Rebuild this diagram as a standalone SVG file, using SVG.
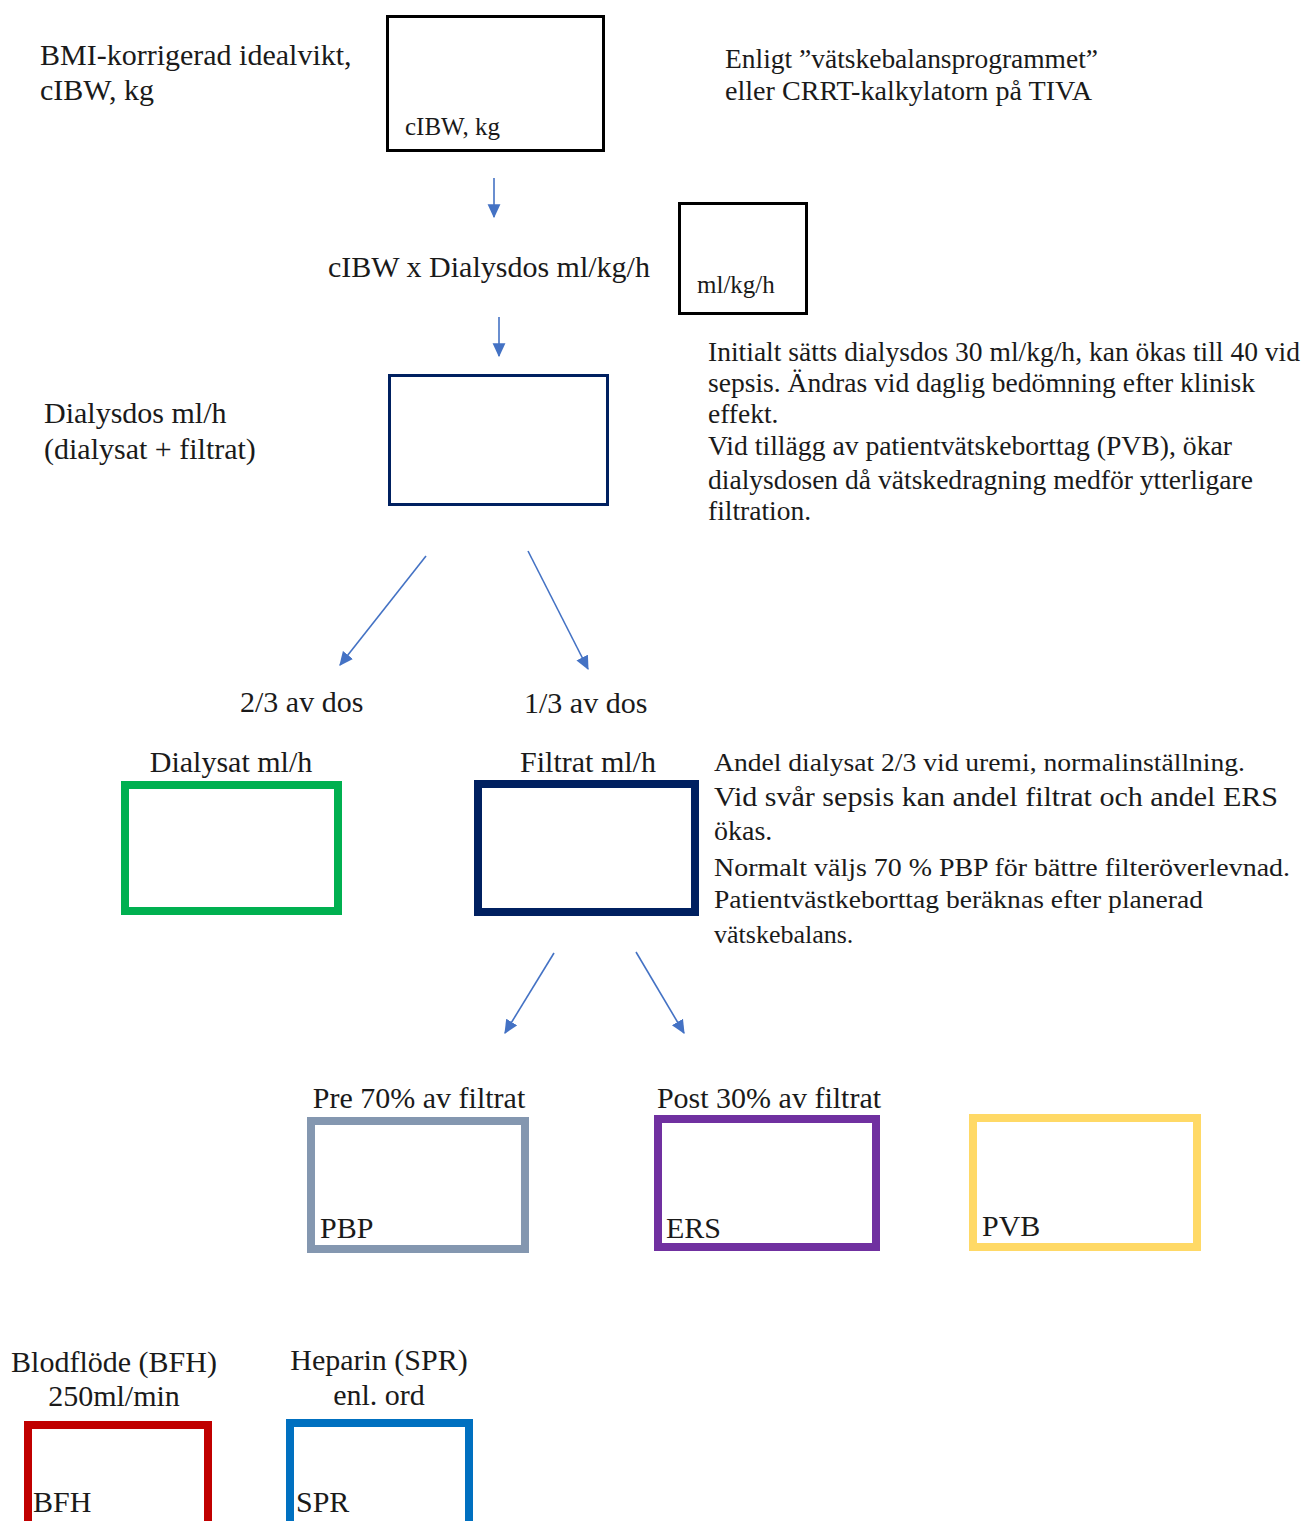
<svg xmlns="http://www.w3.org/2000/svg" width="1303" height="1521" viewBox="0 0 1303 1521">
<style>
text{font-family:"Liberation Serif","Times New Roman",serif;fill:#1a1a1a}
.t{font-size:30px}
.s{font-size:25px}
.p{font-size:27.5px}
.box{fill:#fff}
.thin{stroke:#000;stroke-width:3}
.thick{stroke-width:8}
.conn line{stroke:#4472C4;stroke-width:1.6;marker-end:url(#ah)}
</style>
<defs>
<marker id="ah" markerUnits="userSpaceOnUse" markerWidth="14" markerHeight="14" viewBox="0 0 12 12" refX="11" refY="6" orient="auto">
<path d="M0,0.5 L12,6 L0,11.5 z" fill="#4472C4"/>
</marker>
</defs>
<rect width="1303" height="1521" fill="#fff"/>

<g id="label-bmi">
<text class="t" x="40" y="65">BMI-korrigerad idealvikt,</text>
<text class="t" x="40" y="100">cIBW, kg</text>
</g>
<g id="node-cibw">
<rect class="box thin" x="387.5" y="16.5" width="216" height="134"/>
<text class="s" x="405" y="135">cIBW, kg</text>
</g>
<g id="note-enligt">
<text class="p" x="725" y="68" textLength="373" lengthAdjust="spacingAndGlyphs">Enligt ”vätskebalansprogrammet”</text>
<text class="p" x="725" y="100" textLength="367" lengthAdjust="spacingAndGlyphs">eller CRRT-kalkylatorn på TIVA</text>
</g>
<g id="label-formula">
<text class="t" x="328" y="277">cIBW x Dialysdos ml/kg/h</text>
</g>
<g id="node-mlkgh">
<rect class="box thin" x="679.5" y="203.5" width="127" height="110"/>
<text class="s" x="697" y="293">ml/kg/h</text>
</g>
<g id="label-dialysdos">
<text class="t" x="44" y="423">Dialysdos ml/h</text>
<text class="t" x="44" y="459">(dialysat + filtrat)</text>
</g>
<g id="node-dialysdos">
<rect class="box" x="389.5" y="375.5" width="218" height="129" stroke="#002060" stroke-width="3"/>
</g>
<g id="note-initialt">
<text class="p" x="708" y="361" textLength="592" lengthAdjust="spacingAndGlyphs">Initialt sätts dialysdos 30 ml/kg/h, kan ökas till 40 vid</text>
<text class="p" x="708" y="392" textLength="547" lengthAdjust="spacingAndGlyphs">sepsis. Ändras vid daglig bedömning efter klinisk</text>
<text class="p" x="708" y="423">effekt.</text>
<text class="p" x="708" y="455" textLength="524" lengthAdjust="spacingAndGlyphs">Vid tillägg av patientvätskeborttag (PVB), ökar</text>
<text class="p" x="708" y="489" textLength="545" lengthAdjust="spacingAndGlyphs">dialysdosen då vätskedragning medför ytterligare</text>
<text class="p" x="708" y="520">filtration.</text>
</g>
<g id="label-23">
<text class="t" x="240" y="712">2/3 av dos</text>
</g>
<g id="label-13">
<text class="t" x="524" y="713">1/3 av dos</text>
</g>
<g id="node-dialysat">
<text class="t" x="231" y="772" text-anchor="middle">Dialysat ml/h</text>
<rect class="box thick" x="125" y="785" width="213" height="126" stroke="#00B050"/>
</g>
<g id="node-filtrat">
<text class="t" x="588" y="772" text-anchor="middle">Filtrat ml/h</text>
<rect class="box thick" x="478" y="784" width="217" height="128" stroke="#002060"/>
</g>
<g id="note-andel">
<text x="714" y="771" style="font-size:25px" textLength="531" lengthAdjust="spacingAndGlyphs">Andel dialysat 2/3 vid uremi, normalinställning.</text>
<text x="714" y="806" style="font-size:28px" textLength="564" lengthAdjust="spacingAndGlyphs">Vid svår sepsis kan andel filtrat och andel ERS</text>
<text x="714" y="840" style="font-size:28px">ökas.</text>
<text x="714" y="876" style="font-size:26px" textLength="576" lengthAdjust="spacingAndGlyphs">Normalt väljs 70 % PBP för bättre filteröverlevnad.</text>
<text x="714" y="908" style="font-size:26px" textLength="489" lengthAdjust="spacingAndGlyphs">Patientvästkeborttag beräknas efter planerad</text>
<text x="714" y="943" style="font-size:26px">vätskebalans.</text>
</g>
<g id="node-pbp">
<text class="t" x="419" y="1108" text-anchor="middle">Pre 70% av filtrat</text>
<rect class="box thick" x="311" y="1121" width="214" height="128" stroke="#8497B0"/>
<text class="t" x="320" y="1238">PBP</text>
</g>
<g id="node-ers">
<text class="t" x="769" y="1108" text-anchor="middle">Post 30% av filtrat</text>
<rect class="box thick" x="658" y="1119" width="218" height="128" stroke="#7030A0"/>
<text class="t" x="666" y="1238">ERS</text>
</g>
<g id="node-pvb">
<rect class="box thick" x="973" y="1118" width="224" height="129" stroke="#FFD966"/>
<text class="t" x="982" y="1236">PVB</text>
</g>
<g id="node-bfh">
<text class="t" x="114" y="1372" text-anchor="middle">Blodflöde (BFH)</text>
<text class="t" x="114" y="1406" text-anchor="middle">250ml/min</text>
<rect class="box thick" x="28" y="1425" width="180" height="110" stroke="#C00000"/>
<text class="t" x="33" y="1512">BFH</text>
</g>
<g id="node-spr">
<text class="t" x="379" y="1370" text-anchor="middle">Heparin (SPR)</text>
<text class="t" x="379" y="1405" text-anchor="middle">enl. ord</text>
<rect class="box thick" x="290" y="1423" width="179" height="110" stroke="#0070C0"/>
<text class="t" x="296" y="1512">SPR</text>
</g>

<g id="connectors" class="conn">
<line x1="494" y1="178" x2="494" y2="217"/>
<line x1="499" y1="317" x2="499" y2="356"/>
<line x1="426" y1="556" x2="340" y2="665"/>
<line x1="528" y1="551" x2="588" y2="669"/>
<line x1="554" y1="953" x2="505" y2="1033"/>
<line x1="636" y1="952" x2="684" y2="1033"/>
</g>
</svg>
